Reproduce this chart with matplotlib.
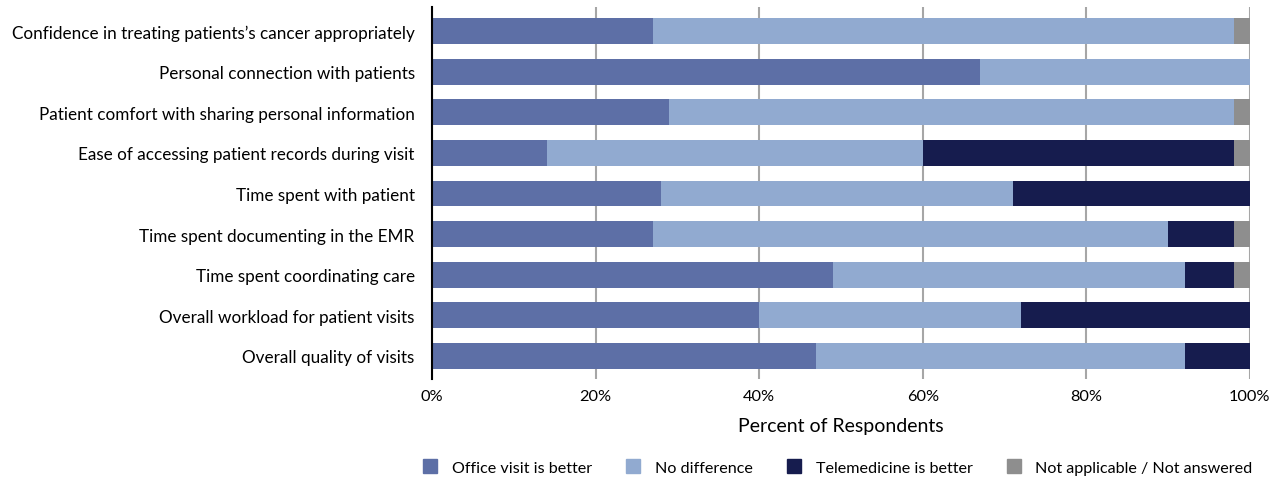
import matplotlib
matplotlib.use("Agg")
import matplotlib.pyplot as plt
import numpy as np
from matplotlib.lines import Line2D

categories = [
    "Confidence in treating patients\u2019s cancer appropriately",
    "Personal connection with patients",
    "Patient comfort with sharing personal information",
    "Ease of accessing patient records during visit",
    "Time spent with patient",
    "Time spent documenting in the EMR",
    "Time spent coordinating care",
    "Overall workload for patient visits",
    "Overall quality of visits",
]
office = [27, 67, 29, 14, 28, 27, 49, 40, 47]
no_diff = [71, 33, 69, 46, 43, 63, 43, 32, 45]
tele = [0, 0, 0, 38, 29, 8, 6, 28, 8]
na = [2, 0, 2, 2, 0, 2, 2, 0, 0]
series_names = ["Office visit is better", "No difference", "Telemedicine is better",
                "Not applicable / Not answered"]
colors = ["#5D6FA6", "#91AAD0", "#161C4E", "#8E8E8E"]
xticks = [0, 20, 40, 60, 80, 100]

plt.rcParams['font.family'] = ['Lato', 'DejaVu Sans']

fig = plt.figure(figsize=(12.82, 4.81), dpi=100)
ax = fig.add_axes([0.337, 0.21, 0.638, 0.773])

y = np.arange(len(categories))
left = np.zeros(len(categories))
for vals, c, name in zip([office, no_diff, tele, na], colors, series_names):
    ax.barh(y, vals, left=left, height=0.64, color=c, label=name, zorder=3)
    left += np.array(vals)

ax.set_ylim(8.57, -0.59)
ax.set_xlim(0, 100)
ax.set_yticks(y)
ax.set_yticklabels(categories, fontsize=12.3)
ax.set_xticks(xticks)
ax.set_xticklabels([f"{t}%" for t in xticks], fontsize=11.8)
ax.tick_params(axis='y', length=0, pad=12.5)
ax.tick_params(axis='x', length=0, pad=7)
ax.grid(axis='x', color='#A6A6A6', linewidth=1.5, zorder=0)
for s in ['top', 'right', 'bottom']:
    ax.spines[s].set_visible(False)
ax.spines['left'].set_color('black')
ax.spines['left'].set_linewidth(1.5)
ax.spines['left'].set_zorder(4)
ax.set_xlabel("Percent of Respondents", fontsize=14, labelpad=10)

handles = [Line2D([0], [0], marker='s', linestyle='none', markersize=10,
                  markerfacecolor=c, markeredgecolor=c) for c in colors]
fig.legend(handles, series_names, loc='center', bbox_to_anchor=(0.65, 0.025),
           ncol=4, frameon=False, fontsize=11.6, handletextpad=0.35, columnspacing=1.55)

fig.savefig("out.png", dpi=100)
